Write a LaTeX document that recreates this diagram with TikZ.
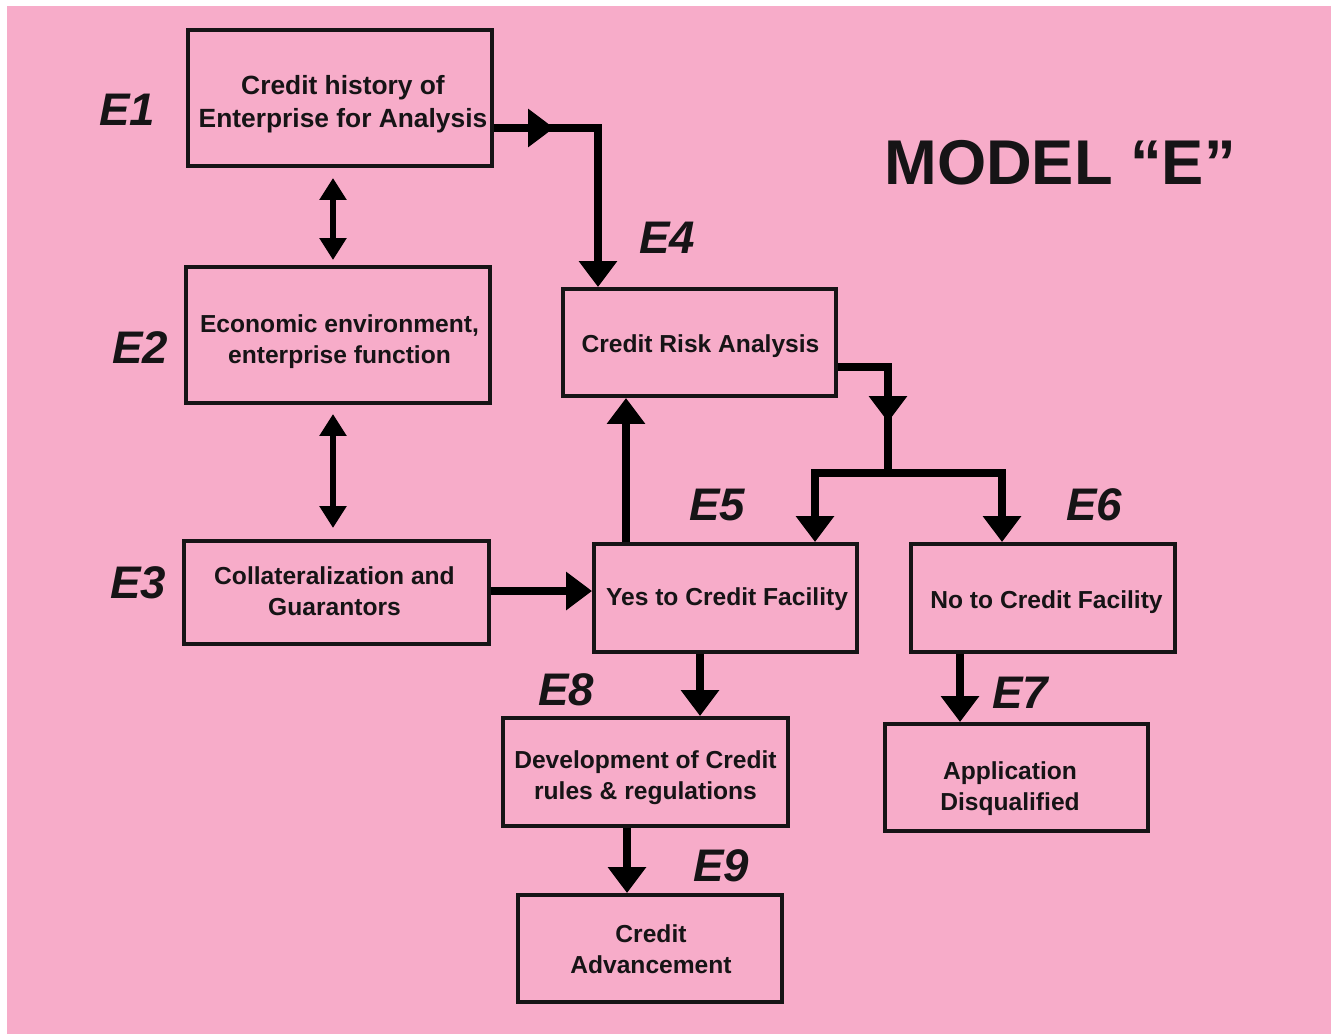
\documentclass[tikz,border=0pt]{standalone}
\usepackage{fontspec}
\setmainfont{Liberation Sans}
\usetikzlibrary{arrows.meta}
\definecolor{modelpink}{RGB}{247,172,201}
\definecolor{inkblack}{RGB}{22,20,22}
\tikzset{
  stepbox/.style={draw=inkblack, line width=0.08cm, inner sep=0pt},
  boxtext/.style={align=center, inner sep=0pt, text=inkblack,
    font=\bfseries\fontsize{14}{17.5}\selectfont},
  elabel/.style={text=inkblack, font=\bfseries\itshape\fontsize{26}{30}\selectfont},
  flow/.style={draw=black, line width=0.16cm},
  flowtip/.style={flow, -{Triangle[width=0.74cm,length=0.52cm]}},
  linkboth/.style={draw=black, line width=0.11cm,
    {Triangle[width=0.52cm,length=0.44cm]}-{Triangle[width=0.52cm,length=0.44cm]}}
}
\begin{document}
\begin{tikzpicture}[x=0.02cm,y=-0.02cm]
  \useasboundingbox (0,0) rectangle (1331,1034);
  \fill[white] (0,0) rectangle (1331,1034);
  \fill[modelpink] (7,6) rectangle (1331,1034);

  % boxes
  \node[stepbox, minimum width=6.08cm, minimum height=2.72cm] (e1) at (340,98) {};
  \node[stepbox, minimum width=6.08cm, minimum height=2.72cm] (e2) at (338,335) {};
  \node[stepbox, minimum width=6.1cm, minimum height=2.06cm] (e3) at (336.5,592.5) {};
  \node[stepbox, minimum width=5.46cm, minimum height=2.14cm] (e4) at (699.5,342.5) {};
  \node[stepbox, minimum width=5.26cm, minimum height=2.16cm] (e5) at (725.5,598) {};
  \node[stepbox, minimum width=5.28cm, minimum height=2.16cm] (e6) at (1043,598) {};
  \node[stepbox, minimum width=5.26cm, minimum height=2.14cm] (e7) at (1016.5,777.5) {};
  \node[stepbox, minimum width=5.7cm, minimum height=2.16cm] (e8) at (645.5,772) {};
  \node[stepbox, minimum width=5.28cm, minimum height=2.14cm] (e9) at (650,948.5) {};

  % box texts
  \node[boxtext, font=\bfseries\fontsize{15}{18.5}\selectfont] (t1) at (343,104)
    {Credit history of\\Enterprise for Analysis};
  \node[boxtext] (t2) at (339.5,342) {Economic environment,\\enterprise function};
  \node[boxtext] (t3) at (334.5,591) {Collateralization and\\Guarantors};
  \node[boxtext] (t4) at (700.5,346.5) {Credit Risk Analysis};
  \node[boxtext] (t5) at (727,599.5) {Yes to Credit Facility};
  \node[boxtext] (t6) at (1046.5,602.5) {No to Credit Facility};
  \node[boxtext] (t7) at (1010,788.5) {Application\\Disqualified};
  \node[boxtext] (t8) at (645.5,778) {Development of Credit\\rules \& regulations};
  \node[boxtext] (t9) at (651,949) {Credit\\Advancement};

  % labels
  \node[elabel] (l1) at (127,110) {E1};
  \node[elabel] (l2) at (140,348) {E2};
  \node[elabel] (l3) at (138,583) {E3};
  \node[elabel] (l4) at (667,238) {E4};
  \node[elabel] (l5) at (717,505) {E5};
  \node[elabel] (l6) at (1094,505) {E6};
  \node[elabel] (l7) at (1020,693) {E7};
  \node[elabel] (l8) at (566,690) {E8};
  \node[elabel] (l9) at (721,866) {E9};
  \node[text=inkblack, font=\bfseries\fontsize{36}{40}\selectfont] (title) at (1060,163)
    {MODEL “E”};

  % helper points
  \coordinate (m1) at (554,128);
  \coordinate (k1) at (598,128);
  \coordinate (s1) at (888,367);
  \coordinate (s2) at (888,422);
  \coordinate (s3) at (888,473);
  \coordinate (b5) at (815,473);
  \coordinate (b6) at (1002,473);
  \coordinate (c12) at (333,0);
  \coordinate (c54) at (626,0);
  \coordinate (c58) at (700,0);
  \coordinate (c67) at (960,0);
  \coordinate (c89) at (627,0);

  % connectors
  \begin{scope}
    \draw[linkboth] ([yshift=-0.2cm]e1.south -| c12) -- ([yshift=0.1cm]e2.north -| c12);
    \draw[linkboth] ([yshift=-0.18cm]e2.south -| c12) -- ([yshift=0.22cm]e3.north -| c12);
    \draw[flowtip] (e1.east |- k1) -- (k1) -- (k1 |- e4.north);
    \draw[flowtip] (e1.east |- k1) -- (m1);
    \draw[flowtip] (e3.east |- 0,591) -- (e5.west |- 0,591);
    \draw[flowtip] (e5.north -| c54) -- (e4.south -| c54);
    \draw[flow] (e4.east |- s1) -- (s1) -- (s3);
    \draw[flowtip] (s1) -- (s2);
    \draw[flowtip] (s3) -- (b5) -- (b5 |- e5.north);
    \draw[flowtip] (s3) -- (b6) -- (b6 |- e6.north);
    \draw[flowtip] (e5.south -| c58) -- (e8.north -| c58);
    \draw[flowtip] (e6.south -| c67) -- (e7.north -| c67);
    \draw[flowtip] (e8.south -| c89) -- (e9.north -| c89);
  \end{scope}
\end{tikzpicture}
\end{document}
